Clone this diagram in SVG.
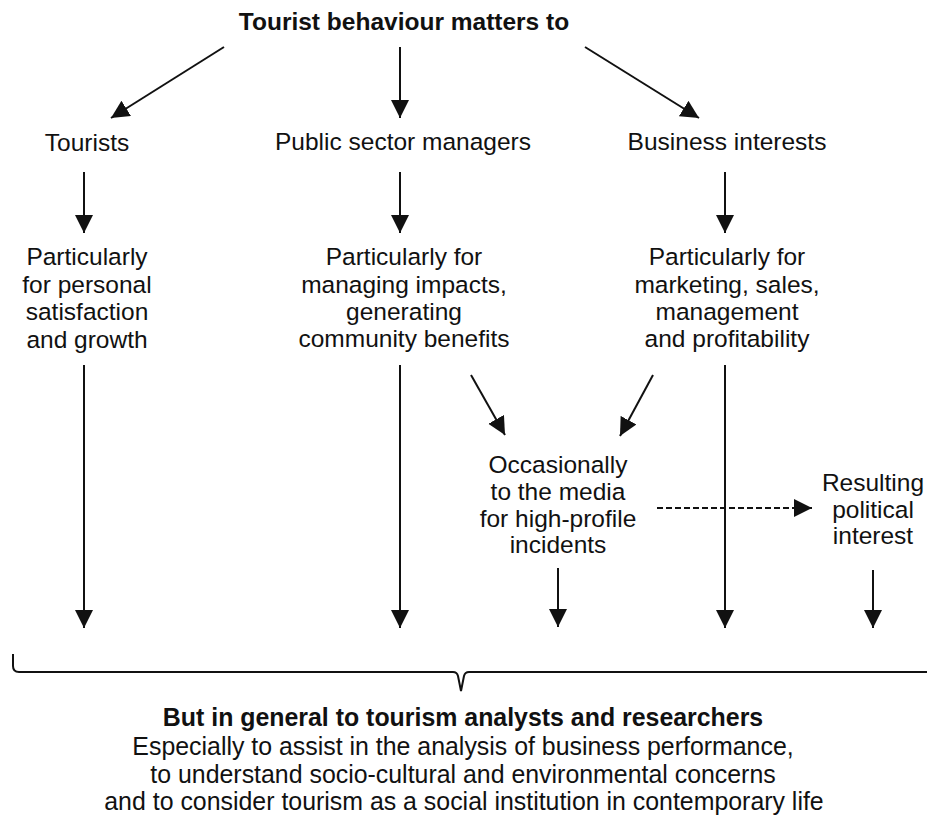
<svg xmlns="http://www.w3.org/2000/svg" width="927" height="821" viewBox="0 0 927 821">
  <style>
    text { font-family: "Liberation Sans", Arial, sans-serif; font-size: 24.5px; fill: #111; text-anchor: middle; }
    .b { font-weight: bold; }
    .w { font-size: 24.9px; }
    .ln { stroke: #111; stroke-width: 2; fill: none; }
    .dash { stroke-dasharray: 6 3; }
  </style>
  <defs>
    <marker id="ah" markerUnits="userSpaceOnUse" markerWidth="19" markerHeight="19" refX="18" refY="9" orient="auto">
      <path d="M0,0 L18,9 L0,18 z" fill="#111"/>
    </marker>
  </defs>

  <rect width="927" height="821" fill="#fff"/>

  <g id="root">
    <text class="b" x="404" y="30">Tourist behaviour matters to</text>
  </g>

  <g id="tourists">
    <text x="87" y="151">Tourists</text>
  </g>
  <g id="public">
    <text x="403" y="150">Public sector managers</text>
  </g>
  <g id="business">
    <text x="727" y="150">Business interests</text>
  </g>

  <g id="tourists-purpose">
    <text x="87" y="265">Particularly</text>
    <text x="87" y="293">for personal</text>
    <text x="87" y="320">satisfaction</text>
    <text x="87" y="348">and growth</text>
  </g>
  <g id="public-purpose">
    <text x="404" y="265">Particularly for</text>
    <text x="404" y="293">managing impacts,</text>
    <text x="404" y="320">generating</text>
    <text x="404" y="347">community benefits</text>
  </g>
  <g id="business-purpose">
    <text x="727" y="265">Particularly for</text>
    <text x="727" y="293">marketing, sales,</text>
    <text x="727" y="320">management</text>
    <text x="727" y="347">and profitability</text>
  </g>

  <g id="media">
    <text x="558" y="473">Occasionally</text>
    <text x="558" y="500">to the media</text>
    <text x="558" y="527">for high-profile</text>
    <text x="558" y="553">incidents</text>
  </g>
  <g id="political">
    <text x="873" y="491">Resulting</text>
    <text x="873" y="518">political</text>
    <text x="873" y="544">interest</text>
  </g>

  <g id="researchers">
    <text class="b w" x="463" y="726">But in general to tourism analysts and researchers</text>
    <text class="w" x="463" y="755">Especially to assist in the analysis of business performance,</text>
    <text class="w" x="463" y="783">to understand socio-cultural and environmental concerns</text>
    <text class="w" x="464" y="810">and to consider tourism as a social institution in contemporary life</text>
  </g>

  <g id="connectors">
    <!-- from the heading to the three audiences -->
    <line class="ln" x1="224" y1="47" x2="111" y2="118" marker-end="url(#ah)"/>
    <line class="ln" x1="400" y1="47" x2="400" y2="118" marker-end="url(#ah)"/>
    <line class="ln" x1="585" y1="47" x2="699" y2="118" marker-end="url(#ah)"/>

    <!-- audiences to their particular purposes -->
    <line class="ln" x1="84" y1="172" x2="84" y2="233" marker-end="url(#ah)"/>
    <line class="ln" x1="400" y1="172" x2="400" y2="233" marker-end="url(#ah)"/>
    <line class="ln" x1="725" y1="172" x2="725" y2="233" marker-end="url(#ah)"/>

    <!-- into the media node -->
    <line class="ln" x1="471" y1="375" x2="505" y2="435" marker-end="url(#ah)"/>
    <line class="ln" x1="653" y1="375" x2="620" y2="436" marker-end="url(#ah)"/>

    <!-- media to political interest -->
    <line class="ln dash" x1="657" y1="508" x2="812" y2="508" marker-end="url(#ah)"/>

    <!-- everything down to the brace -->
    <line class="ln" x1="84" y1="365" x2="84" y2="628" marker-end="url(#ah)"/>
    <line class="ln" x1="400" y1="365" x2="400" y2="628" marker-end="url(#ah)"/>
    <line class="ln" x1="558" y1="568" x2="558" y2="627" marker-end="url(#ah)"/>
    <line class="ln" x1="725" y1="365" x2="725" y2="628" marker-end="url(#ah)"/>
    <line class="ln" x1="873" y1="570" x2="873" y2="628" marker-end="url(#ah)"/>

    <!-- brace gathering all paths -->
    <path class="ln" d="M13,654 L13,666 Q13,672 19,672 L453,672 Q457,672 458,676 L461,691 L464,676 Q465,672 469,672 L927,672"/>
  </g>
</svg>
